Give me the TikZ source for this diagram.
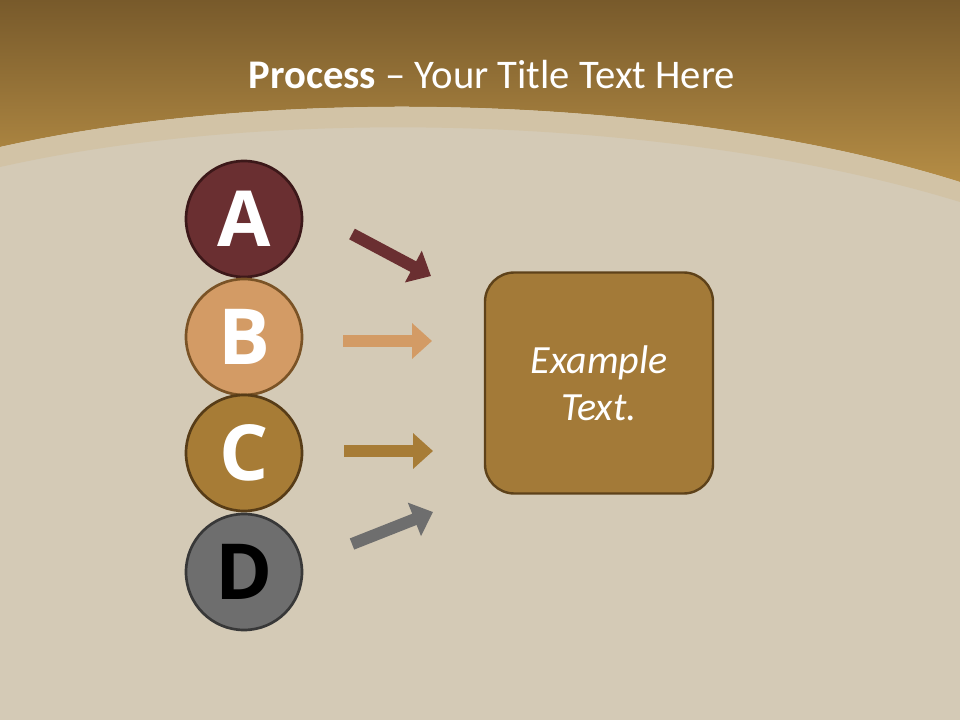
\documentclass[tikz,border=0pt]{standalone}
\usepackage{fontspec}
\setmainfont{Carlito}
\newfontfamily\letterfont{Open Sans}
\usetikzlibrary{arrows.meta}
\definecolor{beige}{HTML}{D4CAB6}
\definecolor{bandc}{HTML}{D2C3A6}
\definecolor{topbrown}{HTML}{785A2B}
\definecolor{botbrown}{HTML}{B58D45}
\definecolor{cA}{HTML}{6A2F31}
\definecolor{cAb}{HTML}{3C1819}
\definecolor{cB}{HTML}{D39B65}
\definecolor{cBb}{HTML}{7A5326}
\definecolor{cC}{HTML}{A77C36}
\definecolor{cCb}{HTML}{573C17}
\definecolor{cD}{HTML}{6E6E6E}
\definecolor{cDb}{HTML}{383838}
\definecolor{boxc}{HTML}{A37A38}
\definecolor{boxb}{HTML}{5E421A}
\tikzset{
  letter/.style={circle, minimum size=116*0.75pt, line width=2pt, inner sep=0pt,
    font=\letterfont\bfseries\fontsize{58}{58}\selectfont},
  flow/.style={line width=9pt, -{Triangle[width=26pt,length=15pt]}},
}
\begin{document}
\begin{tikzpicture}[x=0.75pt,y=-0.75pt]
\useasboundingbox (0,0) rectangle (960,720);
\fill[beige] (0,0) rectangle (960,720);
\shade[top color=topbrown, bottom color=botbrown]
  (0,0) -- (960,0) -- (960,182) .. controls (700,100) and (300,80) .. (0,147) -- cycle;
\fill[bandc]
  (0,147) .. controls (300,80) and (700,100) .. (960,182) -- (960,202)
  .. controls (700,122) and (300,100) .. (0,167) -- cycle;
\node[text=white, font=\fontsize{30.5}{34}\selectfont] (title) at (492,75)
  {\textbf{Process} -- Your Title Text Here};

\node[letter, fill=cA, draw=cAb, text=white] (A) at (244,219) {A};
\node[letter, fill=cB, draw=cBb, text=white] (B) at (244,337) {B};
\node[letter, fill=cC, draw=cCb, text=white] (C) at (244,453) {C};
\node[letter, fill=cD, draw=cDb, text=black] (D) at (244,572) {D};

\node[draw=boxb, line width=1.8pt, fill=boxc, rounded corners=22pt,
  minimum width=228*0.75pt, minimum height=221*0.75pt, align=center,
  text=white, font=\itshape\fontsize{30}{35}\selectfont] (box) at (599,383)
  {Example\\Text.};

\coordinate (a1) at (352,234); \coordinate (a2) at (431,276);
\coordinate (b1) at (343,341); \coordinate (b2) at (432,341);
\coordinate (c1) at (344,451); \coordinate (c2) at (433,451);
\coordinate (d1) at (352,544); \coordinate (d2) at (433,512);
\draw[flow, cA] (a1) -- (a2);
\draw[flow, cB] (b1) -- (b2);
\draw[flow, cC] (c1) -- (c2);
\draw[flow, cD] (d1) -- (d2);
\end{tikzpicture}
\end{document}
